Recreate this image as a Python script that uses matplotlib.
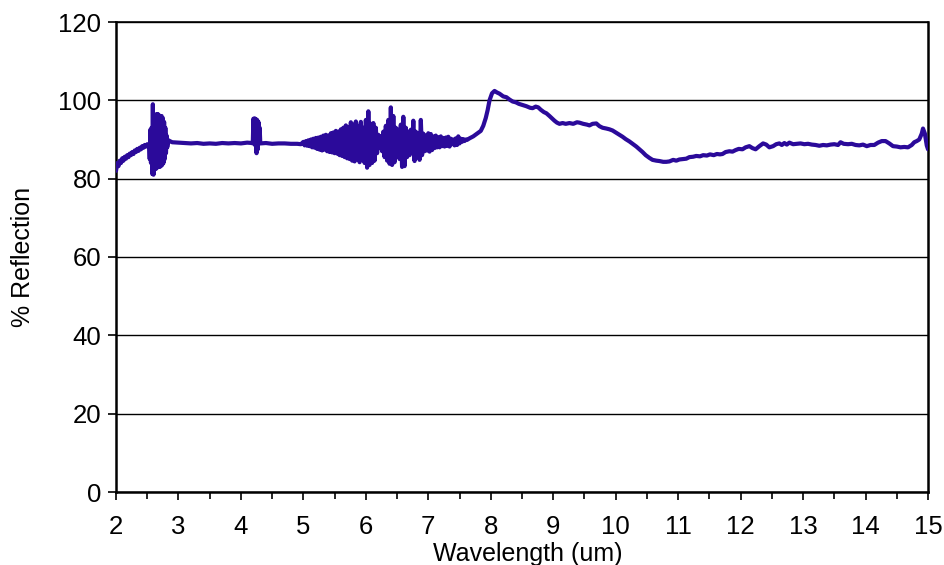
import numpy as np
import matplotlib
matplotlib.use("Agg")
import matplotlib.pyplot as plt
from matplotlib.ticker import MultipleLocator

plt.rcParams['font.family'] = ['Liberation Sans', 'DejaVu Sans']

# --- spectrum data: wavelength (um) vs % reflection ---
# near-IR rise
rise_wl = [2.00, 2.02, 2.04, 2.06, 2.08, 2.10, 2.12, 2.14, 2.16, 2.18, 2.20, 2.22, 2.24,
           2.26, 2.28, 2.30, 2.32, 2.34, 2.36, 2.38, 2.40, 2.42, 2.44, 2.46, 2.48, 2.50, 2.52]
rise_refl = [82.0, 84.0, 83.2, 84.6, 84.0, 85.2, 84.6, 85.6, 85.1, 86.0, 85.5, 86.4, 86.0,
             86.8, 86.3, 87.2, 86.8, 87.6, 87.1, 87.9, 87.5, 88.3, 87.9, 88.6, 88.2, 88.8, 88.4]

# water band structure near 2.6 um
band1_wl = [2.53, 2.54, 2.55, 2.56, 2.57, 2.58, 2.59, 2.60, 2.61, 2.62, 2.63, 2.64, 2.65,
            2.66, 2.67, 2.68, 2.69, 2.70, 2.71, 2.72, 2.73, 2.74, 2.75, 2.76, 2.77, 2.78,
            2.79, 2.80, 2.81, 2.82, 2.84]
band1_refl = [88.6, 85.0, 92.5, 84.0, 93.0, 81.2, 99.0, 81.0, 95.0, 82.5, 96.0, 82.5, 96.5,
              82.8, 96.5, 83.0, 96.2, 83.0, 96.0, 83.2, 96.0, 83.5, 95.5, 84.0, 94.5, 85.0,
              93.0, 86.5, 91.0, 88.0, 89.8]

# flat plateau
flat1_wl = [2.86, 2.90, 3.00, 3.10, 3.20, 3.30, 3.40, 3.50, 3.60, 3.70, 3.80, 3.90, 4.00,
            4.10, 4.18]
flat1_refl = [89.6, 89.3, 89.2, 89.1, 89.0, 89.1, 88.9, 89.0, 88.9, 89.1, 89.0, 89.1, 89.0,
              89.2, 89.1]

# CO2 feature near 4.25 um
band2_wl = [4.19, 4.20, 4.21, 4.22, 4.23, 4.24, 4.25, 4.26, 4.27, 4.28, 4.29, 4.30, 4.31]
band2_refl = [89.0, 95.3, 89.0, 95.4, 88.5, 95.2, 86.5, 95.0, 87.5, 94.5, 89.0, 93.0, 89.0]

flat2_wl = [4.40, 4.50, 4.60, 4.70, 4.80, 4.90, 4.96]
flat2_refl = [89.1, 88.9, 89.0, 89.0, 88.9, 88.9, 88.8]

# water band structure 5 - 7.6 um (sampled every 0.02 um)
band3_refl = [
    89.4, 88.5, 89.6, 88.4, 89.8, 88.3, 90.0, 88.0, 90.2, 87.9,
    90.4, 87.6, 90.5, 87.4, 90.7, 87.2, 91.0, 87.4, 91.2, 87.0,
    91.0, 86.8, 91.6, 86.7, 91.8, 86.5, 92.2, 86.4, 92.0, 86.0,
    92.6, 85.8, 93.0, 85.5, 93.6, 85.2, 93.2, 85.0, 94.4, 84.6,
    93.8, 84.4, 94.6, 85.0, 93.5, 84.2, 94.5, 84.8, 93.0, 84.0,
    95.0, 82.8, 97.2, 83.5, 94.0, 84.0, 94.2, 84.6, 93.0, 86.5,
    91.2, 87.8, 90.8, 87.0, 92.0, 85.5, 93.5, 84.6, 95.0, 83.8,
    98.2, 83.5, 96.0, 84.2, 93.0, 85.5, 92.5, 85.0, 93.8, 83.0,
    95.8, 83.2, 93.0, 85.5, 92.0, 86.0, 92.5, 86.5, 94.8, 84.5,
    92.0, 86.5, 91.5, 84.8, 95.0, 86.0, 91.5, 87.0, 91.0, 87.2,
    91.6, 86.9, 91.4, 87.3, 90.8, 87.8, 91.0, 88.0, 90.6, 88.0,
    90.8, 88.3, 90.4, 88.2, 90.5, 88.4, 90.7, 88.2, 90.2, 88.8,
    90.0, 88.5, 90.3, 88.6, 90.8, 89.0, 90.2, 89.4, 90.1, 89.6,
    90.0, 89.9,
]
band3_wl = list(np.round(np.linspace(5.00, 7.62, len(band3_refl)), 3))

# mid-IR: reststrahlen peak and long-wave tail
tail_wl = [7.66, 7.72, 7.78, 7.84, 7.88, 7.92, 7.95, 7.98, 8.02, 8.06, 8.10, 8.14, 8.20,
           8.25, 8.30, 8.35, 8.40, 8.45, 8.51, 8.57, 8.63, 8.67, 8.72, 8.76, 8.80, 8.85,
           8.89, 8.94, 8.98, 9.02, 9.06, 9.10, 9.15, 9.20, 9.26, 9.32, 9.38, 9.42, 9.48,
           9.54, 9.58, 9.63, 9.69, 9.74, 9.79, 9.85, 9.90, 9.95, 10.00, 10.05, 10.11,
           10.16, 10.22, 10.27, 10.33, 10.38, 10.43, 10.48, 10.54, 10.59, 10.65, 10.70,
           10.76, 10.81, 10.86, 10.92, 10.97, 11.02, 11.08, 11.13, 11.18, 11.24, 11.29,
           11.35, 11.40, 11.46, 11.51, 11.57, 11.62, 11.67, 11.71, 11.76, 11.82, 11.87,
           11.92, 11.97, 12.03, 12.08, 12.14, 12.19, 12.24, 12.30, 12.36, 12.41, 12.46,
           12.52, 12.57, 12.62, 12.66, 12.70, 12.74, 12.78, 12.84, 12.90, 12.96, 13.02,
           13.08, 13.14, 13.20, 13.26, 13.32, 13.38, 13.44, 13.50, 13.56, 13.60, 13.65,
           13.72, 13.78, 13.84, 13.90, 13.96, 14.02, 14.08, 14.14, 14.20, 14.26, 14.32,
           14.38, 14.44, 14.50, 14.56, 14.62, 14.68, 14.74, 14.78, 14.82, 14.86, 14.90,
           14.92, 14.95, 14.98, 15.00]
tail_refl = [90.3, 90.8, 91.5, 92.2, 93.5, 95.5, 97.5, 100.0, 101.8, 102.4, 102.0, 101.7,
             101.0, 100.8, 100.2, 99.7, 99.5, 99.1, 98.8, 98.5, 98.1, 98.0, 98.4, 98.2,
             97.6, 97.0, 96.7, 96.0, 95.4, 94.8, 94.3, 94.0, 94.2, 94.0, 94.2, 94.0, 94.4,
             94.3, 94.0, 93.8, 93.6, 94.0, 94.1, 93.4, 93.0, 92.8, 92.6, 92.3, 91.8, 91.3,
             90.7, 90.1, 89.5, 88.9, 88.2, 87.5, 86.8, 86.0, 85.3, 84.8, 84.6, 84.5, 84.3,
             84.3, 84.4, 84.8, 84.6, 84.9, 85.0, 85.1, 85.5, 85.6, 85.8, 85.7, 86.0, 85.9,
             86.2, 86.0, 86.3, 86.2, 86.3, 86.8, 87.0, 86.9, 87.3, 87.6, 87.5, 88.0, 88.3,
             87.8, 87.5, 88.3, 89.0, 88.7, 88.0, 88.3, 88.8, 89.0, 88.6, 89.1, 88.7, 89.2,
             88.8, 88.9, 89.0, 88.8, 88.9, 88.7, 88.6, 88.4, 88.6, 88.5, 88.7, 88.8, 88.6,
             89.3, 88.9, 88.8, 88.9, 88.6, 88.5, 88.7, 88.3, 88.6, 88.6, 89.2, 89.6, 89.6,
             89.0, 88.3, 88.2, 88.0, 88.1, 88.0, 88.6, 89.3, 89.6, 90.0, 91.5, 92.8, 91.5,
             88.5, 87.5]

wavelength = np.concatenate([rise_wl, band1_wl, flat1_wl, band2_wl, flat2_wl, band3_wl, tail_wl])
reflection = np.concatenate([rise_refl, band1_refl, flat1_refl, band2_refl, flat2_refl,
                             band3_refl, tail_refl])

x_ticks = list(range(2, 16))
y_ticks = [0, 20, 40, 60, 80, 100, 120]

TICK_FS = 18.5
LABEL_FS = 18

fig = plt.figure(figsize=(9.45, 5.65), dpi=100)
ax = fig.add_axes([116 / 945, 1 - 492 / 565, (928 - 116) / 945, (492 - 22) / 565])

ax.plot(wavelength, reflection, color='#2b0a9a', lw=3.0, solid_joinstyle='round',
        solid_capstyle='round', clip_on=True, zorder=3)

ax.set_xlim(2, 15)
ax.set_ylim(0, 120)
ax.set_xticks(x_ticks)
ax.set_yticks(y_ticks)
ax.xaxis.set_minor_locator(MultipleLocator(0.5))

ax.grid(axis='y', color='black', lw=1.0, zorder=1)
for s in ax.spines.values():
    s.set_linewidth(1.8)
    s.set_color('black')
ax.spines['top'].set_linewidth(1.2)

ax.tick_params(axis='both', which='major', direction='out', length=5.5, width=1.2,
               labelsize=TICK_FS, colors='black')
ax.tick_params(axis='x', which='major', pad=11)
ax.tick_params(axis='y', which='major', pad=5)
ax.tick_params(axis='x', which='minor', direction='out', length=5.0, width=1.2)

ax.set_xlabel('Wavelength (um)', fontsize=LABEL_FS)
ax.set_ylabel('% Reflection', fontsize=LABEL_FS)
ax.xaxis.set_label_coords(0.507, -0.106)
ax.xaxis.label.set_va('top')
ax.yaxis.set_label_coords(-0.100, 0.5)

fig.savefig('out.png', dpi=100, facecolor='white')
